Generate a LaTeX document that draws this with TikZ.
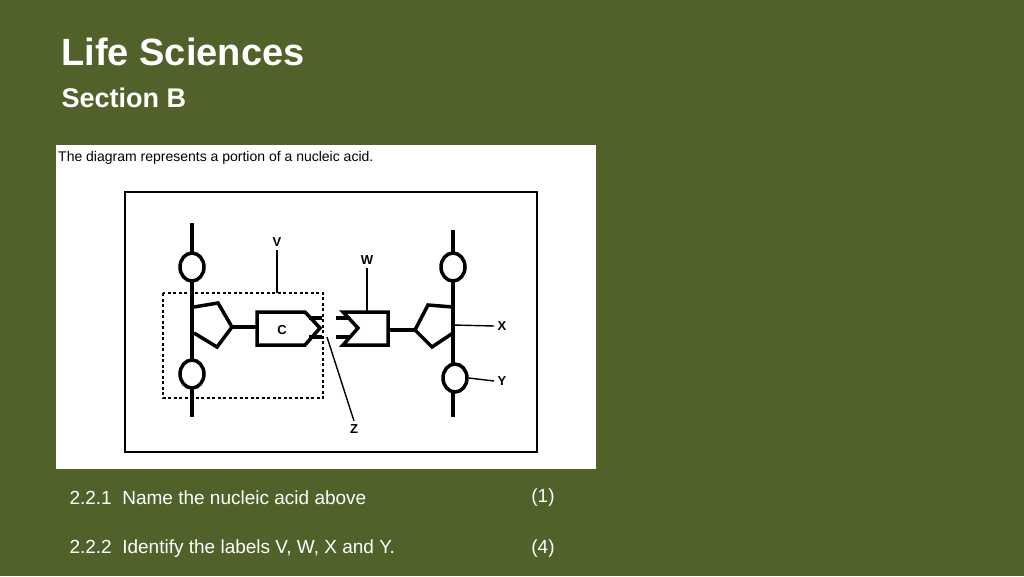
\documentclass[tikz,border=0pt]{standalone}
\usepackage{fontspec}
\setmainfont{Liberation Sans}
\usetikzlibrary{shapes.geometric}
\definecolor{bg}{HTML}{50622A}
\begin{document}
\begin{tikzpicture}[x=1pt,y=-1pt,
  thk/.style={line width=3.5pt},
  thn/.style={line width=1.4pt},
  lbl/.style={font=\bfseries\fontsize{13}{13}\selectfont},
  ph/.style={draw,line width=3.5pt,ellipse,minimum width=24pt,minimum height=28pt,inner sep=0pt}]
\fill[bg] (0,0) rectangle (1024,576);
\useasboundingbox (0,0) rectangle (1024,576);
\node[anchor=west,text=white,font=\bfseries\fontsize{38}{38}\selectfont] (t1) at (58,52) {Life Sciences};
\node[anchor=west,text=white,font=\bfseries\fontsize{27}{27}\selectfont] (t2) at (58,98) {Section B};
\fill[white] (56,145) rectangle (596,469);
\node[anchor=west,font=\fontsize{14}{14}\selectfont,inner sep=0pt] (cap) at (58,158) {The diagram represents a portion of a nucleic acid.};
\draw[line width=2pt] (125,192) rectangle (537,452);
% left strand
\draw[thk] (192,223) -- (192,417);
\node[ph,fill=white] (p1) at (192,267) {};
\node[ph,fill=white] (p2) at (192,374) {};
\draw[thk,line join=miter] (194,307) -- (218,303) -- (232,327) -- (217,347) -- (194,333);
\draw[thk] (232,327) -- (257,327);
\draw[thk,line join=miter] (257,312) -- (305,312) -- (320,328) -- (305,345) -- (257,345) -- cycle;
\node[lbl] (c) at (282,330) {C};
\draw[thk] (309,318) -- (322,318) (309,337) -- (322,337);
% right strand
\draw[thk] (336,318) -- (350,318) (336,337) -- (350,337);
\draw[thk,line join=miter] (343,312) -- (388,312) -- (388,345) -- (343,345) -- (358,328) -- cycle;
\draw[thk] (388,330) -- (415,330);
\draw[thk] (453,230) -- (453,417);
\draw[thk,line join=miter] (453,307) -- (428,305) -- (415,330) -- (432,347) -- (453,333);
\node[ph,fill=white] (p3) at (453,267) {};
\node[ph,fill=white] (p4) at (455,378) {};
% labels
\draw[line width=2pt,dash pattern=on 3pt off 2.5pt] (163,293) rectangle (323,398);
\coordinate (vb) at (277,293);
\node[lbl] (V) at (277,242) {V};
\draw[thn] (V.south) -- (vb);
\node[lbl] (W) at (367,260) {W};
\draw[thn] (W.south) -- (367,312);
\node[lbl] (Z) at (354,429) {Z};
\draw[thn] (327,337) -- (Z.north);
\node[lbl] (X) at (502,326) {X};
\draw[thn] (453,325) -- (X.west);
\node[lbl] (Y) at (502,381) {Y};
\draw[thn] (p4.east) -- (Y.west);
% questions
\node[anchor=west,text=white,font=\fontsize{19}{19}\selectfont] (q1) at (66,498) {2.2.1\ \ Name the nucleic acid above};
\node[text=white,font=\fontsize{19}{19}\selectfont] (m1) at (543,498) {(1)};
\node[anchor=west,text=white,font=\fontsize{19}{19}\selectfont] (q2) at (66,549) {2.2.2\ \ Identify the labels V, W, X and Y.};
\node[text=white,font=\fontsize{19}{19}\selectfont] (m2) at (543,549) {(4)};
\end{tikzpicture}
\end{document}
